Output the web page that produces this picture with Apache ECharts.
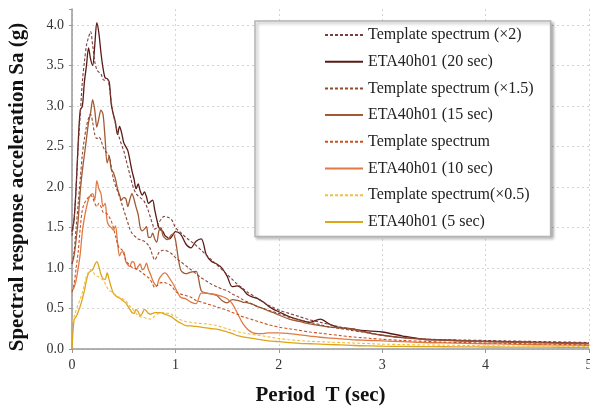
<!DOCTYPE html>
<html><head><meta charset="utf-8">
<script src="https://cdn.jsdelivr.net/npm/echarts@6/dist/echarts.min.js"></script>
<style>html,body{margin:0;padding:0;background:#fff}#c{width:590px;height:409px}</style>
</head><body><div id="c"></div>
<script>
// Period grid (sec)
const periods = [
  0,0.02,0.04,0.06,0.08,0.1,0.12,0.14,0.16,0.18,
  0.2,0.22,0.24,0.26,0.28,0.3,0.32,0.34,0.36,0.38,
  0.4,0.42,0.44,0.46,0.48,0.5,0.52,0.54,0.56,0.58,
  0.6,0.62,0.64,0.66,0.68,0.7,0.72,0.74,0.76,0.78,
  0.8,0.82,0.84,0.86,0.88,0.9,0.92,0.94,0.96,0.98,
  1.0,
  1.05,1.1,1.15,1.2,1.25,1.3,1.35,1.4,1.45,1.5,
  1.55,1.6,1.65,1.7,1.75,1.8,1.85,1.9,1.95,2.0,
  2.1,2.2,2.3,2.4,2.5,2.6,2.7,2.8,2.9,3.0,
  3.2,3.4,3.6,3.8,4.0,4.2,4.4,4.6,4.8,5.0
];
const tpl2 = [
  1.4,1.6,2.0,2.5,2.9,3.3,3.55,3.75,3.85,3.92,
  3.75,3.55,3.45,3.42,3.4,3.33,3.32,3.34,3.25,3.05,
  2.9,2.78,2.68,2.6,2.52,2.45,2.35,2.25,2.15,2.05,
  1.97,1.92,1.89,1.87,1.85,1.82,1.77,1.7,1.62,1.54,
  1.48,1.5,1.56,1.6,1.63,1.64,1.63,1.62,1.6,1.56,
  1.5,
  1.44,1.38,1.33,1.28,1.22,1.16,1.1,1.04,0.98,0.92,
  0.86,0.8,0.75,0.7,0.66,0.62,0.58,0.54,0.51,0.48,
  0.44,0.4,0.36,0.33,0.3,0.27,0.245,0.22,0.195,0.17,
  0.14,0.125,0.115,0.11,0.105,0.1,0.095,0.09,0.085,0.08
];
const eta20 = [
  1.45,1.6,2.0,2.55,2.95,3.0,3.3,3.5,3.72,3.58,
  3.5,3.75,4.03,3.9,3.66,3.47,3.35,3.34,3.3,3.02,
  2.9,2.8,2.65,2.75,2.67,2.55,2.5,2.45,2.33,2.2,
  2.1,1.98,2.04,1.95,1.9,1.94,1.88,1.8,1.82,1.84,
  1.72,1.6,1.5,1.47,1.45,1.4,1.38,1.36,1.38,1.42,
  1.45,
  1.42,1.3,1.25,1.33,1.36,1.16,1.08,1.05,1.0,0.9,
  0.77,0.78,0.74,0.67,0.64,0.62,0.58,0.53,0.49,0.46,
  0.4,0.36,0.33,0.37,0.3,0.26,0.25,0.23,0.22,0.21,
  0.16,0.12,0.11,0.1,0.095,0.09,0.085,0.08,0.075,0.07
];
const tpl15 = [
  1.05,1.2,1.5,1.8,2.1,2.4,2.6,2.75,2.85,2.9,
  2.8,2.65,2.6,2.62,2.58,2.5,2.45,2.42,2.38,2.25,
  2.1,2.02,1.95,1.88,1.8,1.72,1.64,1.56,1.48,1.43,
  1.4,1.38,1.36,1.35,1.34,1.33,1.31,1.28,1.23,1.15,
  1.1,1.14,1.19,1.21,1.22,1.22,1.21,1.2,1.18,1.16,
  1.13,
  1.08,1.03,0.98,0.93,0.88,0.84,0.8,0.77,0.74,0.72,
  0.68,0.65,0.61,0.58,0.55,0.52,0.5,0.48,0.46,0.44,
  0.39,0.36,0.33,0.3,0.27,0.25,0.23,0.21,0.19,0.17,
  0.14,0.125,0.11,0.1,0.095,0.09,0.085,0.08,0.075,0.07
];
const eta15 = [
  1.05,1.15,1.35,1.6,1.95,2.2,2.4,2.6,2.8,2.92,
  3.08,2.95,2.74,2.85,2.95,2.9,2.6,2.3,2.38,2.22,
  2.18,2.1,1.98,1.9,1.84,1.87,1.86,1.76,1.85,1.92,
  1.85,1.75,1.66,1.5,1.46,1.48,1.51,1.38,1.38,1.43,
  1.36,1.32,1.46,1.5,1.4,1.37,1.35,1.37,1.41,1.42,
  1.35,
  0.98,0.93,0.95,0.96,0.72,0.69,0.68,0.66,0.6,0.57,
  0.61,0.6,0.58,0.57,0.55,0.52,0.5,0.47,0.45,0.42,
  0.37,0.34,0.31,0.29,0.27,0.26,0.25,0.22,0.19,0.17,
  0.14,0.12,0.11,0.1,0.09,0.085,0.08,0.075,0.07,0.065
];
const tpl1 = [
  0.7,0.8,1.0,1.2,1.5,1.72,1.8,1.84,1.88,1.9,
  1.87,1.8,1.76,1.8,1.76,1.69,1.68,1.67,1.63,1.58,
  1.5,1.4,1.3,1.24,1.23,1.18,1.1,1.06,1.03,1.01,
  1.0,0.99,0.98,0.96,0.94,0.92,0.9,0.88,0.85,0.8,
  0.76,0.78,0.8,0.82,0.82,0.82,0.81,0.8,0.78,0.75,
  0.71,
  0.68,0.66,0.64,0.6,0.58,0.56,0.54,0.52,0.5,0.48,
  0.45,0.43,0.4,0.38,0.36,0.34,0.32,0.3,0.285,0.27,
  0.25,0.23,0.21,0.195,0.18,0.165,0.15,0.14,0.13,0.12,
  0.105,0.095,0.085,0.08,0.075,0.07,0.065,0.06,0.055,0.05
];
const eta10 = [
  0.72,0.76,0.85,1.0,1.18,1.45,1.62,1.75,1.85,1.9,
  1.92,1.84,2.08,1.98,1.92,1.76,1.8,1.58,1.52,1.5,
  1.47,1.52,1.32,1.15,1.2,1.2,1.08,1.04,1.02,1.08,
  1.07,0.98,1.02,1.05,0.98,1.0,1.06,0.98,0.92,0.85,
  0.8,0.78,0.86,0.9,0.93,0.94,0.92,0.88,0.84,0.8,
  0.75,
  0.64,0.62,0.58,0.56,0.69,0.69,0.68,0.67,0.65,0.62,
  0.56,0.44,0.32,0.24,0.2,0.19,0.19,0.2,0.2,0.2,
  0.19,0.175,0.16,0.145,0.135,0.125,0.115,0.11,0.105,0.1,
  0.09,0.08,0.075,0.07,0.065,0.06,0.055,0.05,0.048,0.045
];
const tpl05 = [
  0.33,0.4,0.48,0.55,0.62,0.7,0.8,0.9,0.95,0.98,
  0.96,0.92,0.9,0.89,0.87,0.85,0.81,0.76,0.72,0.71,
  0.69,0.67,0.65,0.64,0.63,0.61,0.6,0.56,0.53,0.5,
  0.47,0.44,0.41,0.4,0.39,0.39,0.38,0.37,0.37,0.38,
  0.41,0.43,0.44,0.45,0.45,0.45,0.44,0.44,0.43,0.41,
  0.4,
  0.36,0.34,0.33,0.32,0.315,0.31,0.3,0.29,0.27,0.25,
  0.23,0.215,0.2,0.19,0.18,0.17,0.16,0.15,0.14,0.13,
  0.115,0.105,0.095,0.09,0.085,0.08,0.075,0.07,0.065,0.06,
  0.055,0.05,0.047,0.044,0.04,0.038,0.036,0.034,0.032,0.03
];
const eta5 = [
  0.0,0.36,0.4,0.46,0.53,0.62,0.72,0.85,0.94,0.96,
  0.98,1.04,1.08,1.02,0.92,0.87,0.86,0.94,0.85,0.76,
  0.69,0.66,0.64,0.63,0.61,0.59,0.57,0.53,0.49,0.45,
  0.44,0.49,0.46,0.41,0.44,0.49,0.47,0.44,0.43,0.44,
  0.45,0.45,0.45,0.45,0.44,0.43,0.42,0.41,0.4,0.38,
  0.36,
  0.32,0.29,0.285,0.28,0.27,0.26,0.25,0.245,0.23,0.21,
  0.19,0.165,0.15,0.14,0.13,0.12,0.11,0.1,0.095,0.09,
  0.08,0.07,0.065,0.06,0.055,0.05,0.045,0.04,0.038,0.035,
  0.032,0.03,0.028,0.026,0.025,0.024,0.023,0.022,0.021,0.02
];
const seriesNames = ['Template spectrum (\u00d72)','ETA40h01 (20 sec)','Template spectrum (\u00d71.5)','ETA40h01 (15 sec)','Template spectrum','ETA40h01 (10 sec)','Template spectrum(\u00d70.5)','ETA40h01 (5 sec)'];
const xTicks = [0,1,2,3,4,5];
const yTicks = [0,0.5,1,1.5,2,2.5,3,3.5,4];

const seriesValues = [tpl2, eta20, tpl15, eta15, tpl1, eta10, tpl05, eta5];
const colors = ['#7d3d3d','#5a1a14','#8f4a30','#a25a34','#c9521f','#e07a45','#f2c040','#e0a418'];
const dashed = [true,false,true,false,true,false,true,false];

const FONT = 'Liberation Serif, Times New Roman, serif';
const chart = echarts.init(document.getElementById('c'), null, {renderer:'canvas'});
chart.setOption({
  animation:false,
  backgroundColor:'#fff',
  grid:{left:72,right:1,top:9,bottom:60,containLabel:false,outerBoundsMode:'none'},
  xAxis:{
    type:'value',min:0,max:5,interval:1,
    name:'Period  T (sec)',nameLocation:'middle',nameGap:36,
    nameTextStyle:{fontFamily:FONT,fontSize:21,fontWeight:'bold',color:'#111',padding:[0,20,0,0]},
    axisLine:{lineStyle:{color:'#999',width:1.5}},
    axisTick:{show:true,length:4,lineStyle:{color:'#999'}},
    axisLabel:{fontFamily:FONT,fontSize:14,color:'#333',margin:9,
      formatter:v=>xTicks.indexOf(v)>=0?String(v):''},
    splitLine:{show:true,lineStyle:{color:'#d4d4d4',type:[2,3],width:1}}
  },
  yAxis:{
    type:'value',min:0,max:4.2,interval:0.5,
    name:'Spectral response acceleration Sa (g)',nameLocation:'middle',nameGap:44,
    nameTextStyle:{fontFamily:FONT,fontSize:21,fontWeight:'bold',color:'#111',padding:[0,16,0,0]},
    axisLine:{show:true,lineStyle:{color:'#999',width:1.5}},
    axisTick:{show:true,length:3,lineStyle:{color:'#999'}},
    axisLabel:{fontFamily:FONT,fontSize:14,color:'#333',margin:8,
      formatter:v=>yTicks.some(t=>Math.abs(t-v)<1e-6)?v.toFixed(1):''},
    splitLine:{show:true,showMaxLine:false,lineStyle:{color:'#d4d4d4',type:[2,3],width:1}}
  },
  legend:{
    orient:'vertical',left:255,top:21,
    itemWidth:38,itemHeight:14,itemGap:10.7,
    padding:[6,17,6.5,69],
    backgroundColor:'#fff',borderColor:'#b4b4b4',borderWidth:1.5,
    shadowColor:'rgba(0,0,0,0.3)',shadowBlur:3,shadowOffsetX:2,shadowOffsetY:2,
    itemStyle:{opacity:0,color:'transparent',borderWidth:0},
    textStyle:{fontFamily:FONT,fontSize:16,color:'#222'},
    data:seriesNames
  },
  series:seriesNames.map((n,k)=>({
    name:n,type:'line',symbol:'none',smooth:0.3,
    data:periods.map((t,i)=>[t,seriesValues[k][i]]),
    lineStyle:{color:colors[k],width:dashed[k]?1.1:1.3,type:dashed[k]?[3,2]:'solid'},
    itemStyle:{color:colors[k]},
    z:dashed[k]?3:2
  }))
});
</script></body></html>
